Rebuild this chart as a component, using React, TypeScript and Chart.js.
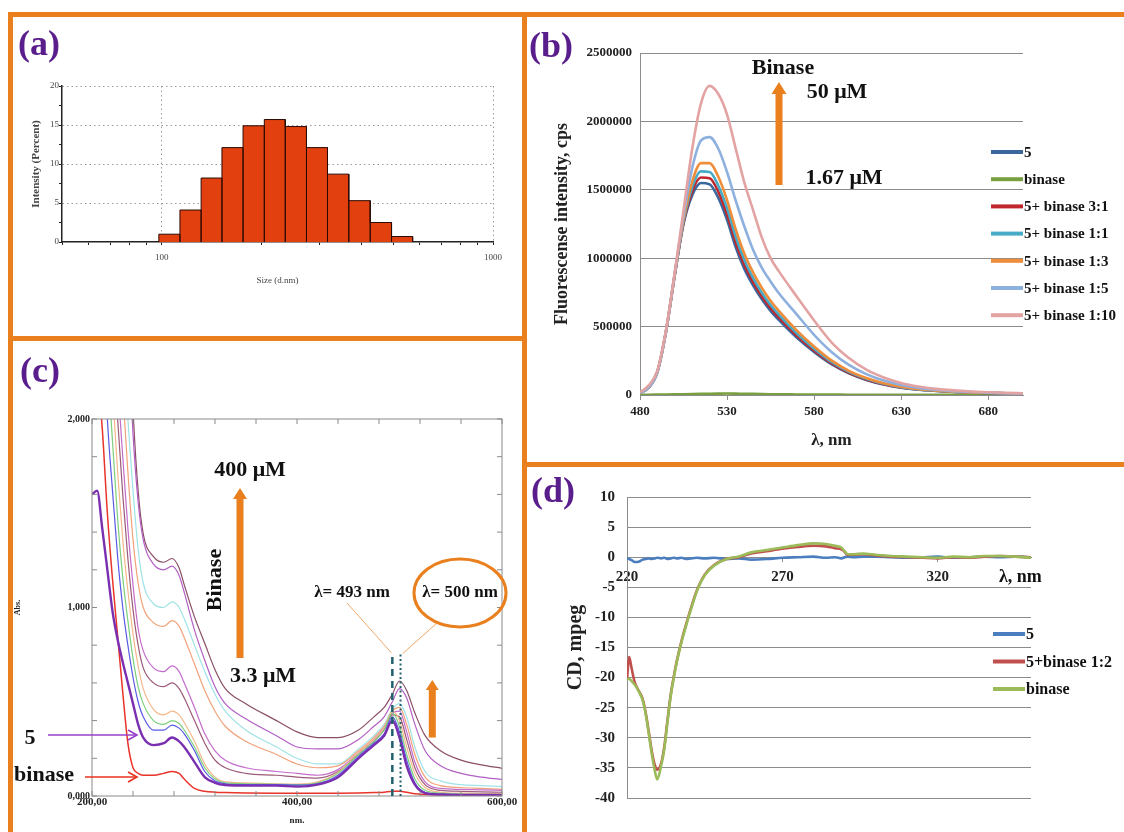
import React, { useEffect, useRef } from 'react';
import { Chart, registerables } from 'chart.js';

Chart.register(...registerables);

const SERIF = '"Liberation Serif", "Times New Roman", serif';
const ORANGE = '#ea7f1e';
const PANEL_PURPLE = '#5a1d8c';

// ---------- (a) DLS size distribution ----------
const sizeBinEdges = [98, 113.5, 131.5, 152, 176, 204, 236, 273.5, 316.5, 367, 426, 494, 572];
const sizeIntensity = [1.0, 4.1, 8.2, 12.1, 14.9, 15.7, 14.8, 12.1, 8.7, 5.3, 2.5, 0.7];
const sizeAxisTicks = [50, 60, 70, 80, 90, 100, 200, 300, 400, 500, 600, 700, 800, 900, 1000];
const sizeLabelledTicks = [100, 1000];

// ---------- (b) fluorescence ----------
const flWavelength = [480, 485, 490, 495, 500, 505, 510, 515, 520, 525, 530, 535, 540, 545, 550, 555, 560, 570, 580, 590, 600, 610, 620, 630, 640, 650, 660, 670, 680, 690, 700];
const fl5 = [15000, 55000, 170000, 470000, 880000, 1250000, 1460000, 1550000, 1540000, 1440000, 1280000, 1080000, 920000, 800000, 700000, 615000, 545000, 420000, 315000, 225000, 158000, 110000, 76000, 53000, 39000, 30000, 23000, 18000, 15000, 12000, 10000];
const flBinase = [2000, 2000, 3000, 4000, 5000, 6000, 7000, 8000, 9000, 10000, 11000, 10000, 9000, 8000, 7000, 6000, 5000, 4000, 3000, 3000, 2000, 2000, 2000, 2000, 1500, 1500, 1000, 1000, 1000, 1000, 1000];
const fl31 = [15000, 55000, 170000, 470000, 880000, 1260000, 1490000, 1590000, 1585000, 1485000, 1320000, 1115000, 950000, 825000, 722000, 635000, 563000, 435000, 326000, 233000, 163000, 114000, 79000, 55000, 40000, 31000, 24000, 18000, 15000, 12000, 10000];
const fl11 = [15000, 55000, 170000, 470000, 885000, 1270000, 1520000, 1635000, 1630000, 1530000, 1365000, 1155000, 985000, 855000, 748000, 658000, 583000, 451000, 338000, 241000, 169000, 118000, 82000, 57000, 41000, 32000, 24000, 19000, 15000, 12000, 10000];
const fl13 = [15000, 55000, 170000, 470000, 890000, 1285000, 1560000, 1695000, 1695000, 1595000, 1425000, 1210000, 1030000, 895000, 783000, 689000, 611000, 473000, 355000, 253000, 177000, 124000, 86000, 60000, 43000, 33000, 25000, 19000, 16000, 13000, 10000];
const fl15 = [15000, 55000, 170000, 470000, 895000, 1310000, 1660000, 1860000, 1885000, 1800000, 1630000, 1420000, 1230000, 1060000, 930000, 830000, 740000, 590000, 440000, 315000, 220000, 153000, 106000, 74000, 52000, 38000, 28000, 22000, 17000, 13000, 11000];
const fl110 = [20000, 70000, 180000, 480000, 900000, 1350000, 1800000, 2130000, 2260000, 2200000, 2050000, 1800000, 1550000, 1350000, 1150000, 1000000, 900000, 720000, 545000, 385000, 270000, 185000, 128000, 88000, 62000, 45000, 34000, 26000, 20000, 16000, 13000];
const flLabels = ['5', 'binase', '5+ binase 3:1', '5+ binase 1:1', '5+ binase 1:3', '5+ binase 1:5', '5+ binase 1:10'];
const flColors = ['#3b679c', '#78a040', '#c0272d', '#45abc7', '#f08d3a', '#8db0de', '#e3a3a3'];
const flXTicks = [480, 530, 580, 630, 680];

// ---------- (c) absorbance ----------
const absWavelength = [200, 205, 210, 215, 220, 225, 230, 235, 240, 245, 250, 260, 270, 278, 285, 290, 300, 310, 320, 330, 350, 380, 400, 420, 440, 460, 475, 485, 493, 500, 507, 515, 525, 540, 560, 580, 600];
const abs5 = [1.60, 1.62, 1.42, 1.20, 0.98, 0.83, 0.71, 0.60, 0.49, 0.38, 0.31, 0.27, 0.28, 0.31, 0.29, 0.26, 0.18, 0.10, 0.07, 0.058, 0.055, 0.055, 0.05, 0.06, 0.10, 0.20, 0.27, 0.32, 0.40, 0.31, 0.16, 0.06, 0.015, 0.008, 0.005, 0.005, 0.005];
const absBinase = [2.6, 2.25, 1.95, 1.50, 1.15, 0.85, 0.55, 0.28, 0.15, 0.12, 0.11, 0.11, 0.12, 0.13, 0.12, 0.09, 0.04, 0.025, 0.02, 0.018, 0.016, 0.015, 0.015, 0.015, 0.015, 0.016, 0.018, 0.02, 0.025, 0.025, 0.02, 0.012, 0.008, 0.005, 0.004, 0.003, 0.003];
const absBlue = [3, 3, 2.6, 2.0, 1.62, 1.27, 1.0, 0.80, 0.63, 0.50, 0.42, 0.35, 0.35, 0.376, 0.36, 0.33, 0.24, 0.13, 0.08, 0.065, 0.06, 0.06, 0.058, 0.065, 0.11, 0.21, 0.28, 0.33, 0.42, 0.34, 0.19, 0.07, 0.02, 0.01, 0.008, 0.007, 0.006];
const absGreen = [3, 3, 3, 2.35, 1.88, 1.47, 1.16, 0.93, 0.73, 0.58, 0.49, 0.40, 0.38, 0.40, 0.385, 0.35, 0.26, 0.15, 0.09, 0.07, 0.065, 0.062, 0.06, 0.07, 0.12, 0.22, 0.29, 0.35, 0.44, 0.37, 0.22, 0.09, 0.03, 0.015, 0.01, 0.009, 0.008];
const absLightOrange = [3, 3, 3, 2.7, 2.15, 1.72, 1.36, 1.09, 0.86, 0.69, 0.57, 0.46, 0.43, 0.45, 0.43, 0.39, 0.29, 0.17, 0.10, 0.075, 0.07, 0.065, 0.063, 0.075, 0.125, 0.23, 0.30, 0.36, 0.45, 0.40, 0.26, 0.12, 0.045, 0.02, 0.015, 0.013, 0.012];
const absMauve = [3, 3, 3, 3, 2.45, 2.0, 1.6, 1.26, 0.99, 0.80, 0.68, 0.60, 0.58, 0.60, 0.57, 0.52, 0.40, 0.28, 0.19, 0.15, 0.12, 0.11, 0.10, 0.095, 0.13, 0.22, 0.29, 0.35, 0.43, 0.42, 0.30, 0.15, 0.06, 0.03, 0.025, 0.022, 0.02];
const absMagenta = [3, 3, 3, 3, 2.7, 2.2, 1.8, 1.42, 1.12, 0.89, 0.77, 0.68, 0.66, 0.69, 0.66, 0.60, 0.47, 0.33, 0.24, 0.19, 0.15, 0.13, 0.12, 0.11, 0.14, 0.23, 0.30, 0.36, 0.44, 0.45, 0.34, 0.18, 0.075, 0.04, 0.035, 0.032, 0.03];
const absPeach = [3, 3, 3, 3, 3, 2.6, 2.15, 1.72, 1.36, 1.13, 1.0, 0.92, 0.90, 0.93, 0.90, 0.84, 0.70, 0.56, 0.45, 0.37, 0.29, 0.22, 0.17, 0.15, 0.16, 0.24, 0.31, 0.37, 0.45, 0.47, 0.38, 0.22, 0.10, 0.055, 0.045, 0.04, 0.035];
const absCyan = [3, 3, 3, 3, 3, 2.8, 2.4, 2.0, 1.62, 1.31, 1.13, 1.02, 1.0, 1.03, 1.0, 0.94, 0.80, 0.66, 0.54, 0.45, 0.35, 0.26, 0.20, 0.17, 0.17, 0.25, 0.32, 0.38, 0.46, 0.49, 0.42, 0.26, 0.13, 0.08, 0.06, 0.055, 0.05];
const absViolet = [3, 3, 3, 3, 3, 3, 3, 2.45, 1.92, 1.56, 1.36, 1.23, 1.20, 1.22, 1.17, 1.08, 0.88, 0.72, 0.58, 0.49, 0.41, 0.32, 0.26, 0.25, 0.25, 0.30, 0.37, 0.42, 0.50, 0.57, 0.52, 0.38, 0.24, 0.16, 0.12, 0.10, 0.088];
const absBrown = [3, 3, 3, 3, 3, 3, 3, 2.7, 2.05, 1.62, 1.39, 1.27, 1.24, 1.26, 1.21, 1.12, 0.95, 0.81, 0.67, 0.57, 0.49, 0.40, 0.34, 0.31, 0.31, 0.35, 0.42, 0.47, 0.54, 0.61, 0.56, 0.44, 0.32, 0.24, 0.19, 0.165, 0.147];
const absMarkers = [493, 501];
const absMarkerTop = 0.76;

// ---------- (d) circular dichroism ----------
const cdWavelength = [220, 220.7, 221.5, 222.5, 224, 225, 226, 227, 228, 229, 229.7, 231, 232, 233, 234, 235, 236, 237.5, 239, 240.5, 242.5, 245, 248, 252, 256, 260, 265, 270, 275, 280, 284, 287, 289, 290, 291, 293, 296, 300, 305, 310, 315, 320, 325, 330, 335, 340, 345, 350];
const cd5 = [-0.2, -0.3, -0.5, -0.8, -0.7, -0.4, -0.3, -0.2, -0.3, -0.2, -0.1, -0.2, -0.1, -0.3, -0.2, -0.1, -0.2, -0.1, -0.3, -0.2, -0.1, -0.2, -0.1, -0.3, -0.2, -0.4, -0.3, -0.1, 0, 0.1, -0.1, 0, -0.2, 0, 0.1, 0, 0.1, 0.1, 0, -0.1, 0, 0.1, -0.1, 0, 0.1, 0, 0.1, 0];
const cd5Binase = [-20.3, -16.6, -18.5, -20.8, -22.4, -23.5, -25.8, -29, -32.3, -34.6, -35.3, -34.2, -31.5, -27.2, -23.1, -20.0, -17.3, -14.0, -11.2, -8.6, -5.5, -2.9, -1.3, -0.3, 0.0, 0.6, 1.0, 1.4, 1.7, 1.9, 1.8, 1.5, 1.3, 0.9, 0.4, 0.4, 0.5, 0.3, 0.1, 0, -0.1, -0.2, 0, -0.1, 0.1, 0.2, 0.1, 0];
const cdBinase = [-20.3, -20.2, -20.6, -21.2, -22.5, -23.7, -26, -29.3, -32.8, -35.6, -36.9, -34.6, -31.9, -27.5, -23.3, -20.2, -17.5, -14.2, -11.4, -8.8, -5.6, -3.0, -1.4, -0.3, 0.1, 0.8, 1.2, 1.6, 2.0, 2.3, 2.2, 1.9, 1.6, 1.0, 0.5, 0.5, 0.6, 0.4, 0.2, 0.1, 0, -0.1, 0.1, 0, 0.2, 0.2, 0.1, -0.1];
const cdLabels = ['5', '5+binase 1:2', 'binase'];
const cdColors = ['#4a7ebf', '#c0504d', '#9bbb59'];
const cdXTicks = [220, 270, 320];

// ---------- helpers ----------
const fixY = (w: number) => (s: any) => { s.width = w; s.paddingTop = 0; s.paddingBottom = 0; };
const fixX = (h: number) => (s: any) => { s.height = h; s.paddingLeft = 0; s.paddingRight = 0; };
const toPoints = (xs: number[], ys: number[]) => xs.map((x, i) => ({ x, y: ys[i] }));

function blockArrow(ctx: any, x: number, yBase: number, yTip: number, shaftW: number, headW: number, headL: number, color: string) {
  ctx.fillStyle = color;
  ctx.beginPath();
  ctx.moveTo(x - shaftW / 2, yBase);
  ctx.lineTo(x - shaftW / 2, yTip + headL);
  ctx.lineTo(x - headW / 2, yTip + headL);
  ctx.lineTo(x, yTip);
  ctx.lineTo(x + headW / 2, yTip + headL);
  ctx.lineTo(x + shaftW / 2, yTip + headL);
  ctx.lineTo(x + shaftW / 2, yBase);
  ctx.closePath();
  ctx.fill();
}

function lineArrow(ctx: any, x1: number, y1: number, x2: number, y2: number, color: string) {
  ctx.strokeStyle = color;
  ctx.lineWidth = 1.6;
  ctx.beginPath();
  ctx.moveTo(x1, y1);
  ctx.lineTo(x2, y2);
  ctx.stroke();
  ctx.beginPath();
  ctx.moveTo(x2 - 9, y2 - 5);
  ctx.lineTo(x2, y2);
  ctx.lineTo(x2 - 9, y2 + 5);
  ctx.stroke();
}

function makeLegend(x0: number, y0: number, dy: number, len: number, fontSize: number) {
  return {
    id: 'sideLegend',
    afterDraw(chart: any) {
      const ctx = chart.ctx;
      ctx.save();
      ctx.font = `bold ${fontSize}px ${SERIF}`;
      ctx.textAlign = 'left';
      ctx.textBaseline = 'middle';
      chart.data.datasets.forEach((ds: any, i: number) => {
        const y = y0 + i * dy;
        ctx.strokeStyle = ds.borderColor;
        ctx.lineWidth = 4;
        ctx.beginPath();
        ctx.moveTo(x0, y);
        ctx.lineTo(x0 + len, y);
        ctx.stroke();
        ctx.fillStyle = '#111';
        ctx.fillText(ds.label, x0 + len + 1, y + 1);
      });
      ctx.restore();
    },
  };
}

// ---------- chart configs ----------
function buildA() {
  const pts: { x: number; y: number }[] = [];
  for (let i = 0; i < sizeIntensity.length; i++) {
    const l = sizeBinEdges[i];
    const r = sizeBinEdges[i + 1];
    const h = sizeIntensity[i];
    pts.push({ x: l, y: 0 }, { x: l, y: h }, { x: r, y: h }, { x: r, y: 0 });
  }
  return {
    type: 'line',
    data: {
      datasets: [{
        data: pts, fill: 'origin', backgroundColor: '#e2410f', borderColor: '#2a0a04',
        borderWidth: 1, pointRadius: 0, tension: 0,
      }],
    },
    options: {
      responsive: false, animation: false, events: [],
      layout: { padding: { left: 0, top: 69, right: 29, bottom: 34 } },
      plugins: { legend: { display: false }, tooltip: { enabled: false } },
      scales: {
        x: {
          type: 'logarithmic', min: 50, max: 1000,
          afterBuildTicks: (s: any) => { s.ticks = sizeAxisTicks.map((v) => ({ value: v })); },
          afterFit: fixX(60),
          ticks: {
            autoSkip: false, maxRotation: 0, padding: 7, font: { size: 9 }, color: '#444',
            callback: (v: any) => (sizeLabelledTicks.includes(Number(v)) ? String(v) : ''),
          },
          grid: {
            color: (c: any) => (c.tick && sizeLabelledTicks.includes(c.tick.value) ? '#9a9a9a' : 'rgba(0,0,0,0)'),
            tickColor: '#222', tickLength: 3, lineWidth: 1,
          },
          border: { display: true, color: '#222', width: 1.5, dash: [1.5, 3] },
          title: { display: true, text: 'Size (d.nm)', font: { size: 9 }, color: '#444', padding: { top: 0, bottom: 16 } },
        },
        y: {
          min: 0, max: 20,
          afterFit: fixY(49),
          ticks: {
            stepSize: 2.5, autoSkip: false, padding: 0, font: { size: 9 }, color: '#444',
            callback: (v: any) => (Number(v) % 5 === 0 ? String(v) : ''),
          },
          grid: {
            color: (c: any) => (c.tick && c.tick.value > 0 && c.tick.value % 5 === 0 ? '#9a9a9a' : 'rgba(0,0,0,0)'),
            tickColor: '#222', tickLength: 3,
          },
          border: { display: true, color: '#222', width: 1.5, dash: [1.5, 3] },
          title: { display: true, text: 'Intensity (Percent)', font: { size: 11, weight: 'bold' }, color: '#444', padding: { top: 17, bottom: 0 } },
        },
      },
    },
  };
}

function buildB() {
  const series = [fl5, flBinase, fl31, fl11, fl13, fl15, fl110];
  const annot = {
    id: 'annotB',
    afterDraw(chart: any) {
      const ctx = chart.ctx;
      ctx.save();
      blockArrow(ctx, 252, 168, 65, 7, 15, 12, ORANGE);
      ctx.fillStyle = '#111';
      ctx.font = `bold 22px ${SERIF}`;
      ctx.textAlign = 'center';
      ctx.textBaseline = 'middle';
      ctx.fillText('Binase', 256, 51);
      ctx.fillText('50 μM', 310, 75);
      ctx.fillText('1.67 μM', 317, 161);
      ctx.restore();
    },
  };
  return {
    type: 'line',
    data: {
      datasets: series.map((s, i) => ({
        label: flLabels[i], data: toPoints(flWavelength, s), borderColor: flColors[i], backgroundColor: flColors[i],
        borderWidth: 2.6, pointRadius: 0, cubicInterpolationMode: 'monotone', fill: false, order: -i,
      })),
    },
    options: {
      responsive: false, animation: false, events: [],
      layout: { padding: { left: 0, top: 36, right: 101, bottom: 7 } },
      plugins: { legend: { display: false }, tooltip: { enabled: false } },
      scales: {
        x: {
          type: 'linear', min: 480, max: 700,
          afterBuildTicks: (s: any) => { s.ticks = flXTicks.map((v) => ({ value: v })); },
          afterFit: fixX(60),
          ticks: { autoSkip: false, maxRotation: 0, padding: 4, font: { size: 13, weight: 'bold' }, color: '#222' },
          grid: { drawOnChartArea: false, tickLength: 5, tickColor: '#8c8c8c' },
          border: { display: true, color: '#8c8c8c' },
          title: { display: true, text: 'λ, nm', font: { size: 17, weight: 'bold' }, color: '#222', padding: { top: 0, bottom: 4 } },
        },
        y: {
          min: 0, max: 2500000,
          afterFit: fixY(113),
          ticks: { stepSize: 500000, padding: 8, font: { size: 13, weight: 'bold' }, color: '#222', callback: (v: any) => String(v) },
          grid: { color: '#8c8c8c', drawTicks: false },
          border: { display: true, color: '#8c8c8c' },
          title: { display: true, text: 'Fluorescense intensity, cps', font: { size: 18, weight: 'bold' }, color: '#222', padding: { top: 25, bottom: 0 } },
        },
      },
    },
    plugins: [makeLegend(464, 135, 27.2, 32, 15), annot],
  };
}

function buildC() {
  const series = [abs5, absBinase, absBlue, absGreen, absLightOrange, absMauve, absMagenta, absPeach, absCyan, absViolet, absBrown];
  const colors = ['#7a2fb0', '#e8342a', '#5a5ae6', '#7dcf7d', '#f5b88a', '#9c5a78', '#c46ccc', '#f2a27a', '#9fe3e6', '#b25fc4', '#8a4f66'];
  const widths = [2.4, 1.5, 1.2, 1.2, 1.2, 1.2, 1.2, 1.2, 1.2, 1.2, 1.2];
  const frame = {
    id: 'frameC',
    afterDraw(chart: any) {
      const { ctx, chartArea: a, scales } = chart;
      ctx.save();
      ctx.strokeStyle = '#8a8a8a';
      ctx.lineWidth = 1;
      ctx.strokeRect(a.left, a.top, a.right - a.left, a.bottom - a.top);
      ctx.beginPath();
      scales.x.ticks.forEach((t: any) => {
        const px = scales.x.getPixelForValue(t.value);
        ctx.moveTo(px, a.bottom); ctx.lineTo(px, a.bottom - 5);
        ctx.moveTo(px, a.top); ctx.lineTo(px, a.top + 5);
      });
      scales.y.ticks.forEach((t: any) => {
        const py = scales.y.getPixelForValue(t.value);
        ctx.moveTo(a.left, py); ctx.lineTo(a.left + 5, py);
        ctx.moveTo(a.right, py); ctx.lineTo(a.right - 5, py);
      });
      ctx.stroke();
      ctx.restore();
    },
  };
  const annot = {
    id: 'annotC',
    afterDraw(chart: any) {
      const { ctx, scales: { x, y } } = chart;
      ctx.save();
      const y0 = y.getPixelForValue(0);
      const yTop = y.getPixelForValue(absMarkerTop);
      ctx.strokeStyle = '#22606e';
      ctx.lineWidth = 2.5;
      ctx.setLineDash([7, 5]);
      const xd = x.getPixelForValue(absMarkers[0]);
      ctx.beginPath(); ctx.moveTo(xd, y0); ctx.lineTo(xd, yTop); ctx.stroke();
      ctx.lineWidth = 2;
      ctx.setLineDash([2, 2.5]);
      const xo = x.getPixelForValue(absMarkers[1]);
      ctx.beginPath(); ctx.moveTo(xo, y0); ctx.lineTo(xo, yTop); ctx.stroke();
      ctx.setLineDash([]);
      ctx.strokeStyle = '#f0a868';
      ctx.lineWidth = 1;
      ctx.beginPath(); ctx.moveTo(334, 262); ctx.lineTo(xd - 1, yTop); ctx.stroke();
      ctx.beginPath(); ctx.moveTo(424, 282); ctx.lineTo(xo + 2, yTop + 1); ctx.stroke();
      ctx.strokeStyle = ORANGE;
      ctx.lineWidth = 3;
      ctx.beginPath(); ctx.ellipse(447, 252, 46, 34, 0, 0, Math.PI * 2); ctx.stroke();
      blockArrow(ctx, 227, 317, 147, 7, 14, 11, ORANGE);
      const xs = x.getPixelForValue(532);
      blockArrow(ctx, xs, y.getPixelForValue(0.31), y.getPixelForValue(0.615), 7, 13, 10, ORANGE);
      lineArrow(ctx, 35, 394, 124, 394, '#9a3fcb');
      lineArrow(ctx, 72, 436, 124, 436, '#e8321f');
      ctx.fillStyle = '#111';
      ctx.textAlign = 'center';
      ctx.textBaseline = 'middle';
      ctx.font = `bold 22px ${SERIF}`;
      ctx.fillText('400 μM', 237, 129);
      ctx.fillText('3.3 μM', 250, 335);
      ctx.fillText('5', 17, 397);
      ctx.fillText('binase', 31, 434);
      ctx.save();
      ctx.translate(202, 239);
      ctx.rotate(-Math.PI / 2);
      ctx.fillText('Binase', 0, 0);
      ctx.restore();
      ctx.font = `bold 17px ${SERIF}`;
      ctx.fillText('λ= 493 nm', 339, 252);
      ctx.fillText('λ= 500 nm', 447, 252);
      ctx.restore();
    },
  };
  return {
    type: 'line',
    data: {
      datasets: series.map((s, i) => ({
        data: toPoints(absWavelength, s), borderColor: colors[i], borderWidth: widths[i],
        pointRadius: 0, cubicInterpolationMode: 'monotone', fill: false,
      })),
    },
    options: {
      responsive: false, animation: false, events: [],
      layout: { padding: { left: 0, top: 78, right: 20, bottom: 0 } },
      plugins: { legend: { display: false }, tooltip: { enabled: false } },
      scales: {
        x: {
          type: 'linear', min: 200, max: 600,
          afterFit: fixX(36),
          ticks: {
            stepSize: 40, autoSkip: false, maxRotation: 0, padding: 0, font: { size: 11, weight: 'bold' }, color: '#222',
            callback: (v: any) => (Number(v) % 200 === 0 ? Number(v).toFixed(2).replace('.', ',') : ''),
          },
          grid: { drawOnChartArea: false, drawTicks: false },
          border: { display: false },
          title: { display: true, text: 'nm.', font: { size: 9, weight: 'bold' }, color: '#222', padding: { top: 0, bottom: 6 } },
        },
        y: {
          min: 0, max: 2,
          afterFit: fixY(79),
          ticks: {
            stepSize: 0.2, autoSkip: false, padding: 2, font: { size: 10, weight: 'bold' }, color: '#222',
            callback: (v: any) => (Math.abs(Number(v) - Math.round(Number(v))) < 1e-6 ? Number(v).toFixed(3).replace('.', ',') : ''),
          },
          grid: { drawOnChartArea: false, drawTicks: false },
          border: { display: false },
          title: { display: true, text: 'Abs.', font: { size: 8, weight: 'bold' }, color: '#222', padding: { top: 0, bottom: 0 } },
        },
      },
    },
    plugins: [frame, annot],
  };
}

function buildD() {
  const series = [cd5, cd5Binase, cdBinase];
  const annot = {
    id: 'annotD',
    afterDraw(chart: any) {
      const ctx = chart.ctx;
      ctx.save();
      ctx.fillStyle = '#111';
      ctx.font = `bold 18px ${SERIF}`;
      ctx.textAlign = 'left';
      ctx.textBaseline = 'middle';
      ctx.fillText('λ, nm', 472, 110);
      ctx.restore();
    },
  };
  return {
    type: 'line',
    data: {
      datasets: series.map((s, i) => ({
        label: cdLabels[i], data: toPoints(cdWavelength, s), borderColor: cdColors[i], backgroundColor: cdColors[i],
        borderWidth: 2.6, pointRadius: 0, cubicInterpolationMode: 'monotone', fill: false, order: -i,
      })),
    },
    options: {
      responsive: false, animation: false, events: [],
      layout: { padding: { left: 0, top: 30, right: 93, bottom: 34 } },
      plugins: { legend: { display: false }, tooltip: { enabled: false } },
      scales: {
        x: {
          type: 'linear', min: 220, max: 350, position: { y: 0 },
          afterBuildTicks: (s: any) => { s.ticks = cdXTicks.map((v) => ({ value: v })); },
          afterFit: (s: any) => { s.paddingLeft = 0; s.paddingRight = 0; },
          ticks: { autoSkip: false, maxRotation: 0, padding: 7, font: { size: 15, weight: 'bold' }, color: '#222' },
          grid: { drawOnChartArea: false, tickLength: 4, tickColor: '#8c8c8c' },
          border: { display: true, color: '#8c8c8c' },
        },
        y: {
          min: -40, max: 10,
          afterFit: fixY(100),
          ticks: { stepSize: 5, padding: 12, font: { size: 15, weight: 'bold' }, color: '#222' },
          grid: { color: '#8c8c8c', drawTicks: false },
          border: { display: true, color: '#8c8c8c' },
          title: { display: true, text: 'CD, mpeg', font: { size: 20, weight: 'bold' }, color: '#222', padding: { top: 37, bottom: 0 } },
        },
      },
    },
    plugins: [makeLegend(466, 167, 27.5, 32, 16), annot],
  };
}

const labelStyle = (left: number, top: number): React.CSSProperties => ({
  position: 'absolute', left, top, fontFamily: SERIF, fontWeight: 'bold', fontSize: 36,
  lineHeight: '36px', color: PANEL_PURPLE, margin: 0, whiteSpace: 'nowrap',
});

const bar = (left: number, top: number, width: number, height: number) => (
  <div style={{ position: 'absolute', left, top, width, height, background: ORANGE }} />
);

export default function App() {
  const refA = useRef<HTMLCanvasElement>(null);
  const refB = useRef<HTMLCanvasElement>(null);
  const refC = useRef<HTMLCanvasElement>(null);
  const refD = useRef<HTMLCanvasElement>(null);

  useEffect(() => {
    Chart.defaults.font.family = SERIF;
    Chart.defaults.color = '#222';
    const charts = [
      new Chart(refA.current as any, buildA() as any),
      new Chart(refB.current as any, buildB() as any),
      new Chart(refC.current as any, buildC() as any),
      new Chart(refD.current as any, buildD() as any),
    ];
    return () => charts.forEach((c) => c.destroy());
  }, []);

  const cv = (left: number, top: number): React.CSSProperties => ({ position: 'absolute', left, top, display: 'block' });

  return (
    <div style={{ position: 'absolute', left: 0, top: 0, width: 1124, height: 832, background: '#ffffff', overflow: 'hidden' }}>
      <canvas ref={refA} width={509} height={319} style={{ ...cv(13, 17), width: 509, height: 319 }} />
      <canvas ref={refB} width={597} height={445} style={{ ...cv(527, 17), width: 597, height: 445 }} />
      <canvas ref={refC} width={509} height={491} style={{ ...cv(13, 341), width: 509, height: 491 }} />
      <canvas ref={refD} width={597} height={365} style={{ ...cv(527, 467), width: 597, height: 365 }} />
      {bar(8, 12, 1116, 5)}
      {bar(8, 12, 5, 820)}
      {bar(522, 12, 5, 820)}
      {bar(8, 336, 519, 5)}
      {bar(522, 462, 602, 5)}
      <div style={labelStyle(18, 25)}>(a)</div>
      <div style={labelStyle(529, 27)}>(b)</div>
      <div style={labelStyle(20, 352)}>(c)</div>
      <div style={labelStyle(531, 472)}>(d)</div>
    </div>
  );
}
